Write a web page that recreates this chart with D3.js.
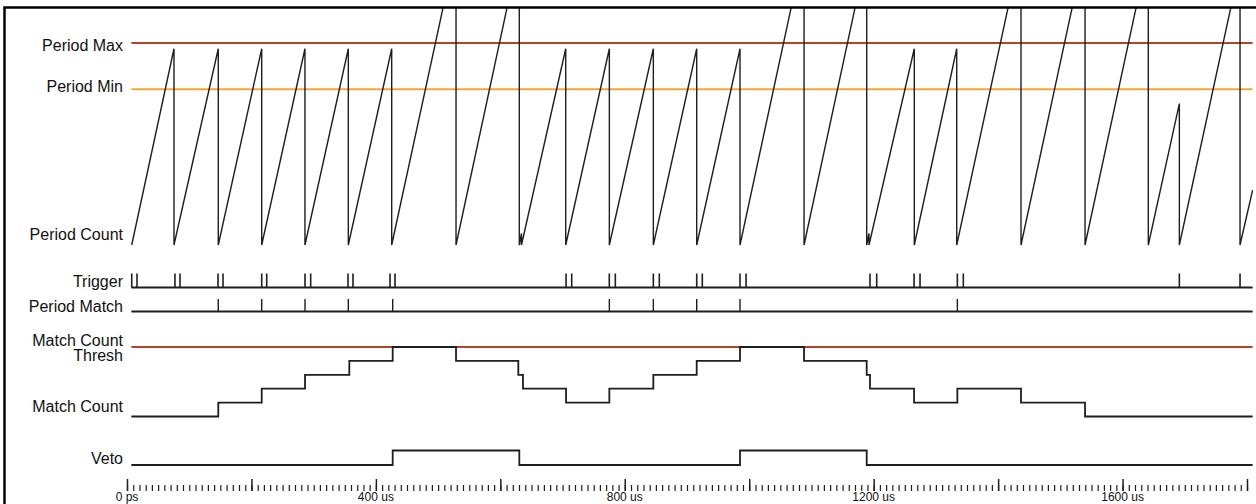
<!DOCTYPE html>
<html lang="en">
<head>
<meta charset="UTF-8" />
<title>Period Match Veto</title>
<script src="https://d3js.org/d3.v7.min.js"></script>
<style>
  body { margin: 0; background: #fff; }
  svg text { font-family: "Liberation Sans", Arial, sans-serif; fill: #111; }
</style>
</head>
<body>
<script>
// all times in us
var tStart = 7, tEnd = 1809;
var periodMax = 70, periodMin = 54;
var matchCountThresh = 5;

// period counter sawtooth, [time, count]
var periodCount = [
  [7.6, 0], [75.5, 68], [75.5, 0], [146.7, 68], [146.7, 0], [216.5, 68], [216.5, 0],
  [286, 68], [286, 0], [355.7, 68], [355.7, 0], [425.4, 68], [425.4, 0],
  [528.8, 103], [528.8, 0], [630.5, 102], [630.5, 0], [634, 4], [634, 0],
  [705.1, 68], [705.1, 0], [775.2, 68], [775.2, 0], [845.9, 68], [845.9, 0],
  [915.6, 68], [915.6, 0], [985.2, 68], [985.2, 0], [1088.1, 103], [1088.1, 0],
  [1188.8, 101], [1188.8, 0], [1192.5, 4], [1192.5, 0], [1265.3, 68], [1265.3, 0],
  [1333.5, 68], [1333.5, 0], [1436.8, 103], [1436.8, 0], [1539.7, 103], [1539.7, 0],
  [1641.4, 102], [1641.4, 0], [1691.3, 49], [1691.3, 0], [1788.8, 97], [1788.8, 0],
  [1809, 19]
];

var triggerTimes = [
  7.6, 16.1, 77.1, 85.2, 146.3, 154.3, 216.5, 224.5, 286.1, 295.2, 355.2, 363.2,
  422.7, 430.7, 705.6, 714.7, 775.1, 784.8, 845.9, 855.5, 915.6, 924.6, 985.2, 994.9,
  1194.1, 1204.9, 1264.9, 1274.5, 1334.5, 1344.1, 1691.3, 1788.8
];

var periodMatchTimes = [146.7, 216.5, 286.1, 355.7, 427, 775.2, 845.9, 915.6, 985.2, 1334.5];

// [time, level]
var matchCount = [
  [7, 0], [146.7, 1], [216.5, 2], [286.1, 3], [357.3, 4], [427, 5], [528.8, 4],
  [628.9, 3], [636.4, 2], [705.6, 1], [775.2, 2], [845.9, 3], [915.6, 4], [985.2, 5],
  [1088.1, 4], [1188.8, 3], [1194.1, 2], [1264.9, 1], [1334.5, 2], [1436.8, 1],
  [1539.7, 0]
];

var veto = [[7, 0], [427, 1], [630.5, 0], [985.2, 1], [1188.8, 0]];

var labelTicks = [0, 400, 800, 1200, 1600];
var labelTexts = ["0 ps", "400 us", "800 us", "1200 us", "1600 us"];

var W = 1256, H = 504;
var svg = d3.select("body").append("svg").attr("width", W).attr("height", H);

var x = d3.scaleLinear().domain([0, 1800]).range([127, 1247]);
var yCount = d3.scaleLinear().domain([0, periodMax]).range([245, 43]);
var yMatch = d3.scaleLinear().domain([0, matchCountThresh]).range([416.5, 347]);
var yVeto = d3.scaleLinear().domain([0, 1]).range([465, 450.5]);
var trigBase = 287.5, trigTop = 273.5;
var pmBase = 311.5, pmTop = 299;

svg.append("defs").append("clipPath").attr("id", "clip")
  .append("rect").attr("x", 0).attr("y", 8).attr("width", 1253).attr("height", H);

var traceColor = "#1e1e1e";

// reference lines
function hline(y, color) {
  svg.append("line")
    .attr("x1", x(tStart)).attr("x2", x(tEnd))
    .attr("y1", y).attr("y2", y)
    .attr("stroke", color).attr("stroke-width", 2);
}
hline(yCount(periodMax), "#b5432c");
hline(yCount(periodMin), "#f0a733");
hline(yMatch(matchCountThresh), "#b5432c");

// period count sawtooth
svg.append("path")
  .attr("clip-path", "url(#clip)")
  .attr("d", d3.line().x(d => x(d[0])).y(d => yCount(d[1]))(periodCount))
  .attr("fill", "none").attr("stroke", traceColor).attr("stroke-width", 1.4);

// trigger row
svg.append("line")
  .attr("x1", x(tStart)).attr("x2", x(tEnd)).attr("y1", trigBase).attr("y2", trigBase)
  .attr("stroke", traceColor).attr("stroke-width", 1.8);
svg.selectAll(".trig").data(triggerTimes).join("line")
  .attr("class", "trig")
  .attr("x1", d => x(d)).attr("x2", d => x(d))
  .attr("y1", trigBase).attr("y2", trigTop)
  .attr("stroke", traceColor).attr("stroke-width", 1.6);

// period match row
svg.append("line")
  .attr("x1", x(tStart)).attr("x2", x(tEnd)).attr("y1", pmBase).attr("y2", pmBase)
  .attr("stroke", traceColor).attr("stroke-width", 1.8);
svg.selectAll(".pm").data(periodMatchTimes).join("line")
  .attr("class", "pm")
  .attr("x1", d => x(d)).attr("x2", d => x(d))
  .attr("y1", pmBase).attr("y2", pmTop)
  .attr("stroke", traceColor).attr("stroke-width", 1.4);

// step traces
var step = d3.line().curve(d3.curveStepAfter).x(d => x(d[0]));
svg.append("path")
  .attr("d", step.y(d => yMatch(d[1]))(matchCount.concat([[tEnd, matchCount[matchCount.length - 1][1]]])))
  .attr("fill", "none").attr("stroke", traceColor).attr("stroke-width", 1.8);
svg.append("path")
  .attr("d", step.y(d => yVeto(d[1]))(veto.concat([[tEnd, veto[veto.length - 1][1]]])))
  .attr("fill", "none").attr("stroke", traceColor).attr("stroke-width", 1.8);

// row labels
var labels = [
  ["Period Max", 51], ["Period Min", 91.5], ["Period Count", 240], ["Trigger", 287],
  ["Period Match", 311.5], ["Match Count", 346], ["Thresh", 360.5],
  ["Match Count", 411.5], ["Veto", 464]
];
svg.append("g").selectAll("text").data(labels).join("text")
  .attr("x", 123).attr("y", d => d[1])
  .attr("text-anchor", "end").attr("font-size", 16)
  .text(d => d[0]);

// time axis
var minorAxis = d3.axisBottom(x).tickValues(d3.range(0, 1801, 10)).tickSize(6).tickFormat("");
var majorAxis = d3.axisBottom(x).tickValues(d3.range(0, 1801, 200)).tickSize(12).tickFormat("");
svg.append("g").attr("transform", "translate(0,479)").call(majorAxis)
  .call(g => g.select(".domain").remove())
  .selectAll("line").attr("stroke", traceColor).attr("stroke-width", 1.5);
svg.append("g").attr("transform", "translate(0,485)").call(minorAxis)
  .call(g => g.select(".domain").remove())
  .selectAll("line").attr("stroke", traceColor).attr("stroke-width", 1.2);
svg.append("g").selectAll("text").data(labelTicks).join("text")
  .attr("x", d => x(d)).attr("y", 500.5)
  .attr("text-anchor", "middle").attr("font-size", 12)
  .text((d, i) => labelTexts[i]);

// frame
svg.append("path").attr("d", "M4.5,504V7.5H1256")
  .attr("fill", "none").attr("stroke", "#000").attr("stroke-width", 2.5);
</script>
</body>
</html>
